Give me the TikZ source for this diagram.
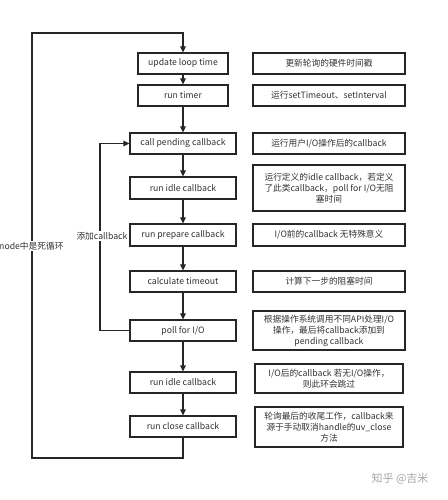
\documentclass[tikz,border=0pt]{standalone}
\usepackage{fontspec}
\setmainfont{Noto Sans CJK SC}
\usetikzlibrary{arrows.meta}
\begin{document}
\begin{tikzpicture}[x=1pt,y=-1pt,
  box/.style={draw=black!85,line width=1.1pt,rectangle,inner sep=1pt,align=center,text=black!80,font=\fontsize{8.7}{11}\selectfont},
  lbox/.style={box,minimum width=106pt,minimum height=21pt},
  sbox/.style={box,minimum width=90pt,minimum height=21pt},
  rbox/.style={box,minimum width=152pt},
  conn/.style={draw=black!85,line width=1.1pt},
  arr/.style={conn,-{Triangle[length=6pt,width=5.5pt]}},
  lbl/.style={fill=white,inner sep=1pt,text=black!80,font=\fontsize{8.7}{11}\selectfont}]
\useasboundingbox[fill=white] (0,0) rectangle (447,500);
% left column
\node[sbox] (n1) at (183,63.5) {update loop time};
\node[sbox] (n2) at (183,95.5) {run timer};
\node[lbox] (n3) at (183,143.5) {call pending callback};
\node[lbox,minimum height=22pt] (n4) at (183,188) {run idle callback};
\node[lbox,minimum height=22pt] (n5) at (183,235) {run prepare callback};
\node[lbox] (n6) at (183,281.5) {calculate timeout};
\node[lbox] (n7) at (183,330.5) {poll for I/O};
\node[lbox] (n8) at (183,382.5) {run idle callback};
\node[lbox] (n9) at (183,426.5) {run close callback};
% right column
\node[rbox,minimum height=21pt] (r1) at (329,63.5) {更新轮询的硬件时间戳};
\node[rbox,minimum height=21pt] (r2) at (329,95.5) {运行setTimeout、setInterval};
\node[rbox,minimum height=21pt] (r3) at (329,143.5) {运行用户I/O操作后的callback};
\node[rbox,minimum height=46pt] (r4) at (329,188) {运行定义的idle callback，若定义\\了此类callback，poll for I/O无阻\\塞时间};
\node[rbox,minimum height=22pt] (r5) at (329,235) {I/O前的callback 无特殊意义};
\node[rbox,minimum height=21pt] (r6) at (329,281.5) {计算下一步的阻塞时间};
\node[rbox,minimum height=39pt] (r7) at (329,330.5) {根据操作系统调用不同API处理I/O\\操作，最后将callback添加到\\pending callback};
\node[rbox,minimum width=148pt,minimum height=29pt] (r8) at (329,378.5) {I/O后的callback 若无I/O操作，\\则此环会跳过};
\node[rbox,minimum width=148pt,minimum height=40pt] (r9) at (329,427) {轮询最后的收尾工作，callback来\\源于手动取消handle的uv\_close\\方法};
% main flow
\draw[arr] (n1) -- (n2);
\draw[arr] (n2) -- (n3);
\draw[arr] (n3) -- (n4);
\draw[arr] (n4) -- (n5);
\draw[arr] (n5) -- (n6);
\draw[arr] (n6) -- (n7);
\draw[arr] (n7) -- (n8);
\draw[arr] (n8) -- (n9);
% outer loop
\coordinate (c1) at (183,458);
\coordinate (c2) at (32,458);
\coordinate (c3) at (32,33);
\coordinate (c4) at (183,33);
\draw[arr] (n9.south) -- (c1) -- (c2) -- (c3) -- (c4) -- (n1.north);
% callback loop
\coordinate (d1) at (100,143.5);
\draw[arr] (n7.west) -| (d1) -- (n3.west);
% labels
\node[lbl] (l1) at (102,236) {添加callback};
\node[lbl,anchor=west] (l2) at (-2,246) {node中是死循环};
\node[text=black!35,font=\fontsize{11}{13}\selectfont] (wm) at (400,479) {知乎 @吉米};
\end{tikzpicture}
\end{document}
